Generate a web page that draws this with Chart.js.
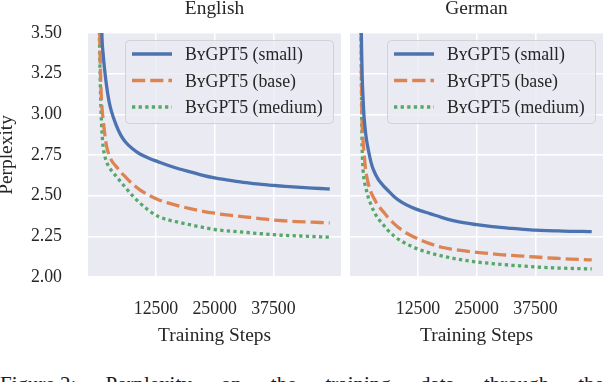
<!DOCTYPE html>
<html><head><meta charset="utf-8">
<script src="https://cdn.jsdelivr.net/npm/chart.js@4.4.1/dist/chart.umd.min.js"></script>
<style>
html,body{margin:0;padding:0;background:#fff;}
body{width:604px;height:382px;overflow:hidden;position:relative;}
#c1{position:absolute;left:0;top:0;}
#c2{position:absolute;left:343px;top:0;}
#cap{position:absolute;left:0;top:374px;width:604px;display:flex;justify-content:space-between;font:21px/1 'Liberation Serif','DejaVu Serif',serif;color:#1a1a1a;}
</style></head>
<body>
<canvas id="c1" width="343" height="350"></canvas>
<canvas id="c2" width="261" height="350"></canvas>
<div id="cap"><span>Figure 2:</span><span>Perplexity</span><span>on</span><span>the</span><span>training</span><span>data</span><span>through</span><span>the</span></div>
<script>
const steps = [300, 400, 500, 600, 800, 1000, 1250, 1500, 2000, 2500, 3000, 4000, 5000, 6000, 7500, 9000, 11000, 13000, 15000, 17500, 20000, 22500, 25000, 27500, 30000, 32500, 35000, 37500, 40000, 42500, 45000, 47500, 49500];
const seriesLabels = ['Bʏ' + 'GPT5 (small)', 'Bʏ' + 'GPT5 (base)', 'Bʏ' + 'GPT5 (medium)'];
const panelTitles = ['English', 'German'];
const xTickValues = [12500, 25000, 37500];
const yTickStep = 0.25;

const enSmall = [5.6, 5.0, 4.5, 4.15, 3.72, 3.47, 3.37, 3.29, 3.17, 3.08, 3.02, 2.935, 2.872, 2.83, 2.788, 2.758, 2.73, 2.708, 2.687, 2.664, 2.645, 2.625, 2.609, 2.597, 2.586, 2.577, 2.569, 2.563, 2.557, 2.552, 2.548, 2.544, 2.541];
const enBase = [4.4, 3.85, 3.52, 3.36, 3.15, 3.04, 2.97, 2.90, 2.80, 2.75, 2.718, 2.68, 2.645, 2.615, 2.572, 2.537, 2.502, 2.475, 2.456, 2.436, 2.419, 2.404, 2.392, 2.382, 2.374, 2.366, 2.358, 2.35, 2.345, 2.341, 2.338, 2.335, 2.333];
const enMedium = [4.2, 3.65, 3.40, 3.24, 3.02, 2.89, 2.80, 2.755, 2.705, 2.677, 2.655, 2.62, 2.585, 2.55, 2.50, 2.457, 2.408, 2.372, 2.352, 2.335, 2.32, 2.305, 2.292, 2.284, 2.278, 2.272, 2.266, 2.26, 2.256, 2.253, 2.25, 2.247, 2.245];
const deSmall = [4.3, 3.62, 3.38, 3.24, 3.10, 2.99, 2.91, 2.85, 2.77, 2.705, 2.66, 2.602, 2.565, 2.535, 2.492, 2.46, 2.43, 2.408, 2.39, 2.367, 2.347, 2.332, 2.322, 2.313, 2.305, 2.299, 2.293, 2.288, 2.285, 2.283, 2.281, 2.28, 2.279];
const deBase = [4.2, 3.55, 3.12, 2.95, 2.84, 2.77, 2.685, 2.63, 2.565, 2.52, 2.49, 2.44, 2.405, 2.37, 2.325, 2.29, 2.255, 2.228, 2.205, 2.183, 2.17, 2.16, 2.152, 2.145, 2.138, 2.133, 2.128, 2.123, 2.118, 2.114, 2.11, 2.107, 2.105];
const deMedium = [4.0, 3.40, 3.00, 2.80, 2.66, 2.60, 2.565, 2.535, 2.48, 2.445, 2.41, 2.36, 2.325, 2.29, 2.25, 2.22, 2.19, 2.166, 2.148, 2.13, 2.115, 2.102, 2.092, 2.085, 2.078, 2.072, 2.067, 2.062, 2.058, 2.055, 2.053, 2.051, 2.05];

const FONT = "'Liberation Serif', 'DejaVu Serif', serif";
const TEXT = '#262626';
const SMALL = 17.8, LARGE = 19.4;
const colors = ['#4C72B0', '#DD8452', '#55A868'];
const dashes = [[], [13.2, 5], [3.3, 3.3]];

Chart.defaults.font.family = FONT;
Chart.defaults.color = TEXT;

const bgPlugin = {
  id: 'bg',
  beforeDraw(chart) {
    const a = chart.chartArea, ctx = chart.ctx;
    ctx.save();
    ctx.fillStyle = '#EAEAF2';
    ctx.fillRect(a.left, a.top, a.right - a.left, a.bottom - a.top);
    ctx.restore();
  }
};

const legendPlugin = {
  id: 'boxLegend',
  afterDatasetsDraw(chart) {
    const ctx = chart.ctx, a = chart.chartArea;
    const w = 208, h = 83;
    const x = a.right - 8 - w, y = a.top + 7;
    ctx.save();
    ctx.beginPath();
    ctx.roundRect(x + 0.5, y + 0.5, w, h, 4);
    ctx.fillStyle = 'rgba(234,234,242,0.8)';
    ctx.fill();
    ctx.strokeStyle = 'rgba(204,204,204,0.8)';
    ctx.lineWidth = 1;
    ctx.stroke();
    chart.data.datasets.forEach((ds, i) => {
      const ly = y + 14 + i * 26.5;
      ctx.beginPath();
      ctx.setLineDash(ds.borderDash || []);
      ctx.strokeStyle = ds.borderColor;
      ctx.lineWidth = ds.borderWidth;
      ctx.lineCap = 'butt';
      ctx.moveTo(x + 7, ly);
      ctx.lineTo(x + 47, ly);
      ctx.stroke();
      ctx.setLineDash([]);
      ctx.fillStyle = TEXT;
      ctx.font = SMALL + "px " + FONT;
      ctx.textBaseline = 'middle';
      ctx.textAlign = 'left';
      ctx.fillText(ds.label, x + 60, ly + 1.5);
    });
    ctx.restore();
  }
};

function zeroPad(s) { s.paddingTop = 0; s.paddingBottom = 0; s.paddingLeft = 0; s.paddingRight = 0; }

function makeDatasets(vals) {
  return vals.map((v, i) => ({
    label: seriesLabels[i],
    data: steps.map((s, j) => ({x: s, y: v[j]})),
    borderColor: colors[i],
    backgroundColor: colors[i],
    borderWidth: 3.3,
    borderDash: dashes[i],
    pointRadius: 0,
    cubicInterpolationMode: 'monotone',
    clip: 0,
    fill: false
  }));
}

function makeChart(id, vals, title, first) {
  return new Chart(document.getElementById(id), {
    type: 'line',
    data: {datasets: makeDatasets(vals)},
    plugins: [bgPlugin, legendPlugin],
    options: {
      responsive: false,
      animation: false,
      devicePixelRatio: 1,
      layout: {padding: {left: 0, right: first ? 2 : 1, top: 0, bottom: 0}},
      plugins: {
        legend: {display: false},
        tooltip: {enabled: false},
        title: {
          display: true, text: title, fullSize: false,
          font: {size: LARGE, weight: 'normal', lineHeight: 0.918, family: FONT},
          color: TEXT,
          padding: {top: 0, bottom: 15.2}
        }
      },
      scales: {
        x: {
          type: 'linear', min: -1980, max: 51900,
          afterFit(s) { s.height = 73; zeroPad(s); },
          afterBuildTicks(s) { s.ticks = xTickValues.map(v => ({value: v})); },
          grid: {color: '#ffffff', lineWidth: 1.5, drawTicks: false},
          border: {display: false},
          ticks: {
            padding: 21.3, maxRotation: 0, autoSkip: false,
            font: {size: SMALL, family: FONT}, color: TEXT,
            callback: v => String(v)
          },
          title: {
            display: true, text: 'Training Steps', color: TEXT,
            font: {size: LARGE, lineHeight: 1, family: FONT},
            padding: {top: 0, bottom: 4.1}
          }
        },
        y: {
          type: 'linear', min: 2, max: 3.5,
          afterFit(s) { s.width = first ? 88 : 7; zeroPad(s); },
          grid: {color: '#ffffff', lineWidth: 1.5, drawTicks: false},
          border: {display: false},
          ticks: {
            display: first, stepSize: yTickStep, padding: 26,
            font: {size: SMALL, family: FONT}, color: TEXT,
            callback: v => v.toFixed(2)
          },
          title: {
            display: first, text: 'Perplexity', color: TEXT,
            font: {size: LARGE, lineHeight: 0.72, family: FONT},
            padding: {top: 0, bottom: 0}
          }
        }
      }
    }
  });
}

makeChart('c1', [enSmall, enBase, enMedium], panelTitles[0], true);
makeChart('c2', [deSmall, deBase, deMedium], panelTitles[1], false);
</script>
</body></html>
